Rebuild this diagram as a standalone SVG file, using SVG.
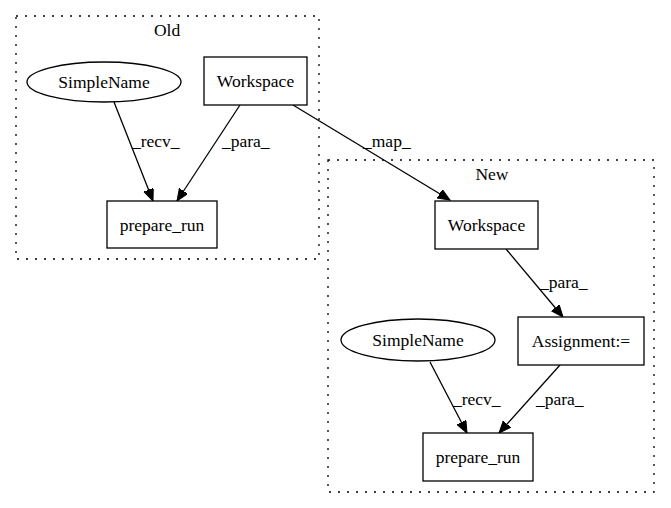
<svg xmlns="http://www.w3.org/2000/svg" width="671" height="508" viewBox="0 0 671 508">
<style>
text{font-family:'Liberation Serif','DejaVu Serif',serif;font-size:17.5px;fill:#000}
.c{text-anchor:middle}
.cl{fill:none;stroke:#000;stroke-width:1.3;stroke-dasharray:2,7}
.n{fill:#fff;stroke:#000;stroke-width:1.3}
.e{fill:none;stroke:#000;stroke-width:1.3}
</style>
<defs>
<marker id="ah" markerUnits="userSpaceOnUse" markerWidth="13" markerHeight="11" refX="12" refY="5" orient="auto">
<path d="M0,0 L12,5 L0,10 z" fill="#000" stroke="#000" stroke-width="1"/>
</marker>
</defs>
<rect width="671" height="508" fill="#fff"/>
<g id="cluster-old">
<rect class="cl" x="16" y="16" width="303" height="243"/>
<text class="c" x="167" y="36" font-family="Liberation Serif, serif">Old</text>
</g>
<g id="cluster-new">
<rect class="cl" x="328" y="160" width="326" height="332"/>
<text class="c" x="492" y="180">New</text>
</g>
<g id="edges">
<line class="e" x1="114" y1="102" x2="153" y2="201" marker-end="url(#ah)"/>
<text x="132" y="147">_recv_</text>
<line class="e" x1="240" y1="105" x2="177" y2="201" marker-end="url(#ah)"/>
<text x="222" y="147">_para_</text>
<line class="e" x1="293" y1="105" x2="450" y2="200" marker-end="url(#ah)"/>
<text x="363" y="147">_map_</text>
<line class="e" x1="506" y1="249" x2="563" y2="317" marker-end="url(#ah)"/>
<text x="540" y="288">_para_</text>
<line class="e" x1="430" y1="362" x2="467" y2="433" marker-end="url(#ah)"/>
<text x="453" y="405">_recv_</text>
<line class="e" x1="560" y1="365" x2="499" y2="433" marker-end="url(#ah)"/>
<text x="536" y="405">_para_</text>
</g>
<g id="old-simplename">
<ellipse class="n" cx="104" cy="82" rx="77" ry="20"/>
<text class="c" x="104" y="88">SimpleName</text>
</g>
<g id="old-workspace">
<rect class="n" x="204" y="57" width="103" height="48"/>
<text class="c" x="255.5" y="87">Workspace</text>
</g>
<g id="old-prepare-run">
<rect class="n" x="107" y="201" width="110" height="47"/>
<text class="c" x="162" y="231">prepare_run</text>
</g>
<g id="new-workspace">
<rect class="n" x="435" y="201" width="103" height="48"/>
<text class="c" x="486.5" y="231">Workspace</text>
</g>
<g id="new-assignment">
<rect class="n" x="518" y="317" width="126" height="48"/>
<text class="c" x="581" y="347">Assignment:=</text>
</g>
<g id="new-simplename">
<ellipse class="n" cx="418" cy="340" rx="77" ry="21"/>
<text class="c" x="418" y="346">SimpleName</text>
</g>
<g id="new-prepare-run">
<rect class="n" x="423" y="433" width="110" height="48"/>
<text class="c" x="478" y="463">prepare_run</text>
</g>
</svg>
